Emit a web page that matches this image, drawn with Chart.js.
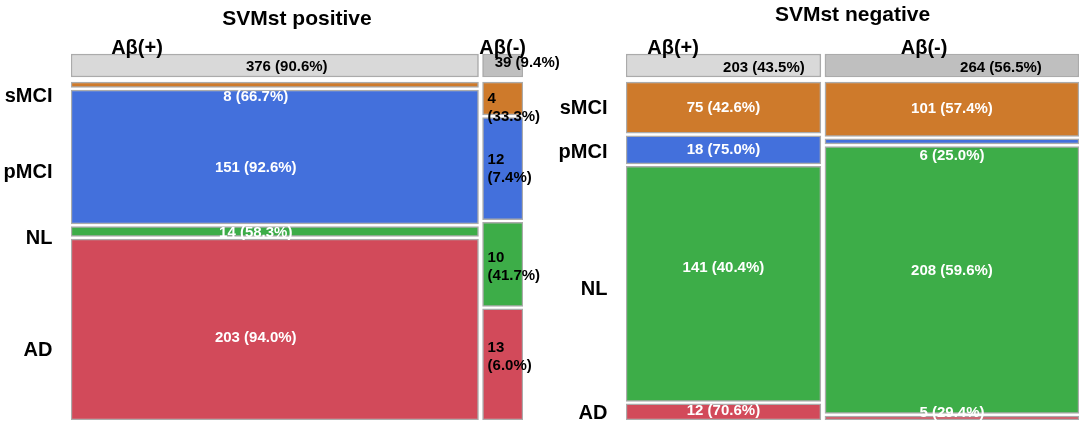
<!DOCTYPE html>
<html>
<head>
<meta charset="utf-8">
<script src="https://cdn.jsdelivr.net/npm/chart.js@4.4.1/dist/chart.umd.min.js"></script>
<style>
  html, body { margin: 0; padding: 0; background: #fff; overflow: hidden; }
  #contenitore { position: relative; width: 1084px; height: 425px; }
  #canvasPos { position: absolute; left: 0; top: 0; }
  #canvasNeg { position: absolute; left: 540px; top: 0; }
</style>
</head>
<body>
<div id="contenitore">
  <canvas id="canvasPos" width="560" height="425"></canvas>
  <canvas id="canvasNeg" width="544" height="425"></canvas>
</div>
<script>
"use strict";

// ============================================================
// DATI
// ============================================================
const diagnosi = ["sMCI", "pMCI", "NL", "AD"];
const colonne  = ["Aβ(+)", "Aβ(-)"];

// --- SVMst positive ---
const posTotali        = [376, 39];
const posTotaliPct     = [90.6, 9.4];
const posConteggiPiu   = [8, 151, 14, 203];
const posPctPiu        = [66.7, 92.6, 58.3, 94.0];
const posConteggiMeno  = [4, 12, 10, 13];
const posPctMeno       = [33.3, 7.4, 41.7, 6.0];
const posAltezzePiu    = [5.5, 134, 10, 181];   // altezze delle celle come appaiono
const posAltezzeMeno   = [33, 102, 84, 111];
const posTickColonne   = [0.146, 0.955];        // dove stanno le scritte Aβ
const posTickRighe     = [4.4, 26.9, 46.4, 79.3];

// --- SVMst negative ---
const negTotali        = [203, 264];
const negTotaliPct     = [43.5, 56.5];
const negConteggiPiu   = [75, 18, 141, 12];
const negPctPiu        = [42.6, 75.0, 40.4, 70.6];
const negConteggiMeno  = [101, 6, 208, 5];
const negPctMeno       = [57.4, 25.0, 59.6, 29.4];
const negAltezzePiu    = [51, 28, 234, 16];
const negAltezzeMeno   = [54, 5, 265, 4];
const negTickColonne   = [0.104, 0.658];
const negTickRighe     = [7.7, 21.0, 61.5, 98.2];

// ============================================================
// STILE
// ============================================================
const FONT = "'Liberation Sans', Arial, sans-serif";
Chart.defaults.font.family = FONT;

const COLORI_CELLE   = ["#CE7A2B", "#4370DC", "#3DAD48", "#D24A5A"];
const COLORI_TESTATA = ["#D9D9D9", "#BFBFBF"];
const BORDO = "#ABABAB";

const Y_MIN = -8.58;                 // bordo alto dell'area del grafico
const Y_TESTATA = [-8.28, -1.48];    // fascia grigia dei totali
const GAP_Y = 0.75;
const GAP_X = 0.009;

const STILE_POS = {
    titoloPad: { top: 7, bottom: 0 },
    asseY: 71,
    destra: 37,
    testata: [[12, 1], [24.5, -3]],
    celle: [
        { colore: "#fff", dueRighe: false, sposta: [[-19, 12], [-19, 11], [-19, 1], [-19, 8.5]] },
        { colore: "#000", dueRighe: true,  sposta: [[5, 9.5], [5, 0], [5, 3], [5, -7.5]] }
    ]
};
const STILE_NEG = {
    titoloPad: { top: 3, bottom: 4 },
    asseY: 86,
    destra: 5,
    testata: [[40.5, 2], [49, 2]],
    celle: [
        { colore: "#fff", dueRighe: false, sposta: [[0, 0], [0, 0], [0, -16], [0, -1]] },
        { colore: "#fff", dueRighe: false, sposta: [[0, 0], [0, 14.5], [0, -9.5], [0, -5]] }
    ]
};

// ============================================================
// Plugin: scritte dentro le celle
// ============================================================
const pluginEtichette = {
    id: "etichetteCelle",
    afterDatasetsDraw(chart) {
        const ctx = chart.ctx;
        ctx.save();
        ctx.font = "bold 15px " + FONT;
        ctx.textBaseline = "middle";
        chart.data.datasets.forEach(function (ds, i) {
            const meta = chart.getDatasetMeta(i);
            meta.data.forEach(function (bar, k) {
                const p = bar.getProps(["x", "y", "base", "width"], true);
                const cy = (p.y + p.base) / 2;
                const testo = ds.etichette[k];
                if (k === 0) {
                    ctx.fillStyle = "#000";
                    ctx.textAlign = "center";
                    ctx.fillText(testo, p.x + ds.stileTestata[0], cy + ds.stileTestata[1]);
                    return;
                }
                const st = ds.stileCelle;
                const d = st.sposta[k - 1];
                ctx.fillStyle = st.colore;
                if (st.dueRighe) {
                    const righe = testo.split(" ");
                    ctx.textAlign = "left";
                    const x = p.x - p.width / 2 + d[0];
                    ctx.fillText(righe[0], x, cy + d[1] - 9);
                    ctx.fillText(righe[1], x, cy + d[1] + 9);
                } else {
                    ctx.textAlign = "center";
                    ctx.fillText(testo, p.x + d[0], cy + d[1]);
                }
            });
        });
        ctx.restore();
    }
};

// ============================================================
// Costruzione dei dataset: una colonna = un dataset di barre fluttuanti
// ============================================================
function creaDatasets(totali, totaliPct, conteggi, pct, altezze, stile, spessori) {
    const somma = totali.reduce((a, b) => a + b, 0);
    let cumX = 0;
    return totali.map(function (tot, j) {
        const quota = tot / somma;
        const x0 = cumX + (j > 0 ? GAP_X / 2 : 0);
        const x1 = cumX + quota - (j < totali.length - 1 ? GAP_X / 2 : 0);
        cumX += quota;
        const centro = (x0 + x1) / 2;

        const dati = [{ x: centro, y: Y_TESTATA }];
        const etichette = [tot + " (" + totaliPct[j].toFixed(1) + "%)"];
        const sommaH = altezze[j].reduce((a, b) => a + b, 0);
        const scala = (100 - GAP_Y * (altezze[j].length - 1)) / sommaH;
        let y = 0;
        altezze[j].forEach(function (h, r) {
            const y1 = y + h * scala;
            dati.push({ x: centro, y: [y, y1] });
            etichette.push(conteggi[j][r] + " (" + pct[j][r].toFixed(1) + "%)");
            y = y1 + GAP_Y;
        });

        const ds = {
            label: colonne[j],
            data: dati,
            backgroundColor: [COLORI_TESTATA[j]].concat(COLORI_CELLE),
            borderColor: BORDO,
            borderWidth: 1.5,
            borderSkipped: false,
            stack: "colonna",
            x0: x0,
            x1: x1,
            etichette: etichette,
            stileTestata: stile.testata[j],
            stileCelle: stile.celle[j]
        };
        if (spessori) ds.barThickness = spessori[j];
        return ds;
    });
}

function creaConfig(titolo, datasets, tickColonne, tickRighe, stile) {
    return {
        type: "bar",
        data: { datasets: datasets },
        plugins: [pluginEtichette],
        options: {
            responsive: false,
            animation: false,
            layout: { padding: { left: 0, right: stile.destra, top: 0, bottom: 5 } },
            plugins: {
                legend: { display: false },
                tooltip: { enabled: false },
                title: {
                    display: true,
                    text: titolo,
                    fullSize: false,
                    color: "#000",
                    font: { size: 21, weight: "bold", lineHeight: 1.2 },
                    padding: stile.titoloPad
                }
            },
            scales: {
                x: {
                    type: "linear",
                    position: "top",
                    min: 0, max: 1,
                    bounds: "data",
                    offset: false,
                    stacked: true,
                    grid: { display: false, drawTicks: false },
                    border: { display: false },
                    afterBuildTicks: function (s) { s.ticks = tickColonne.map(v => ({ value: v })); },
                    afterFit: function (s) { s.height = 20.8; s.paddingLeft = 0; s.paddingRight = 0; },
                    ticks: {
                        // mirror: niente ritaglio, z: sopra la fascia grigia
                        autoSkip: false, maxRotation: 0, mirror: true, padding: -17, z: 1,
                        color: "#000",
                        font: { size: 20, weight: "bold" },
                        callback: (v, i) => colonne[i]
                    }
                },
                y: {
                    type: "linear",
                    reverse: true,
                    min: Y_MIN, max: 100,
                    bounds: "data",
                    stacked: false,
                    grid: { display: false, drawTicks: false },
                    border: { display: false },
                    afterBuildTicks: function (s) { s.ticks = tickRighe.map(v => ({ value: v })); },
                    afterFit: function (s) { s.width = stile.asseY; s.paddingTop = 0; s.paddingBottom = 0; },
                    ticks: {
                        autoSkip: false, padding: 18.5, color: "#000",
                        font: { size: 20, weight: "bold" },
                        callback: (v, i) => diagnosi[i]
                    }
                }
            }
        }
    };
}

// Prima passata per leggere la scala x, poi larghezza reale delle colonne
function creaMosaico(idCanvas, titolo, totali, totaliPct, conteggi, pct, altezze, tickColonne, tickRighe, stile) {
    const canvas = document.getElementById(idCanvas);
    let ds = creaDatasets(totali, totaliPct, conteggi, pct, altezze, stile, null);
    let grafico = new Chart(canvas, creaConfig(titolo, ds, tickColonne, tickRighe, stile));
    const sx = grafico.scales.x;
    const spessori = ds.map(d => Math.abs(sx.getPixelForValue(d.x1) - sx.getPixelForValue(d.x0)));
    grafico.destroy();
    ds = creaDatasets(totali, totaliPct, conteggi, pct, altezze, stile, spessori);
    return new Chart(canvas, creaConfig(titolo, ds, tickColonne, tickRighe, stile));
}

creaMosaico("canvasPos", "SVMst positive", posTotali, posTotaliPct,
    [posConteggiPiu, posConteggiMeno], [posPctPiu, posPctMeno],
    [posAltezzePiu, posAltezzeMeno], posTickColonne, posTickRighe, STILE_POS);

creaMosaico("canvasNeg", "SVMst negative", negTotali, negTotaliPct,
    [negConteggiPiu, negConteggiMeno], [negPctPiu, negPctMeno],
    [negAltezzePiu, negAltezzeMeno], negTickColonne, negTickRighe, STILE_NEG);
</script>
</body>
</html>
